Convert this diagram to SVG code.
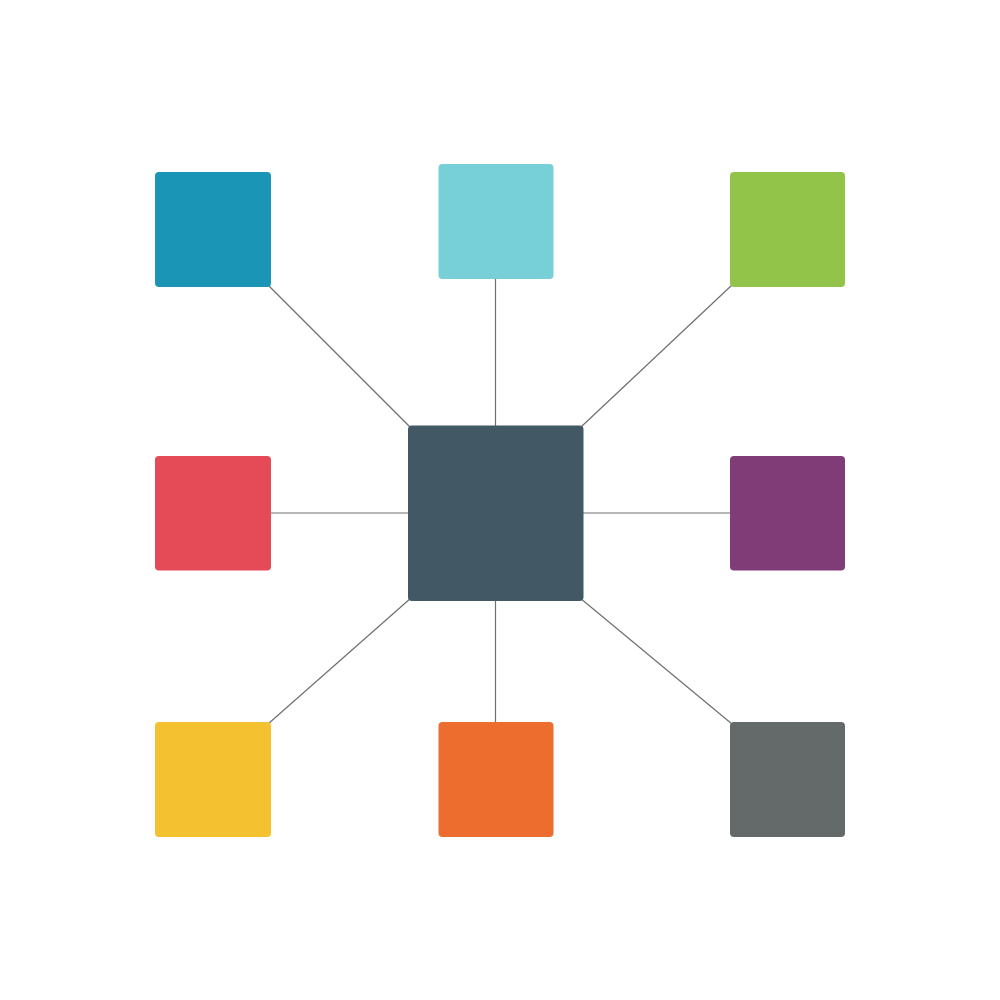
<svg xmlns="http://www.w3.org/2000/svg" width="1000" height="1000" viewBox="0 0 1000 1000">
<style>
.n{rx:4;ry:4}
.c line{stroke:#6f6f6f;stroke-width:1.2;fill:none}
</style>
<rect width="1000" height="1000" fill="#fff"/>
<g class="c" id="connectors">
<line x1="268" y1="285" x2="410" y2="427"/>
<line x1="495.5" y1="278" x2="495.5" y2="426"/>
<line x1="732" y1="285" x2="581" y2="427"/>
<line x1="270" y1="513" x2="409" y2="513"/>
<line x1="582" y1="513" x2="731" y2="513"/>
<line x1="268" y1="724" x2="411" y2="598"/>
<line x1="495.5" y1="600" x2="495.5" y2="723"/>
<line x1="732" y1="724" x2="580" y2="598"/>
</g>
<g id="center"><rect class="n" x="408" y="425.5" width="175.5" height="175.5" fill="#435865"/></g>
<g id="n1"><rect class="n" x="155" y="172" width="116" height="115" fill="#1A95B5"/></g>
<g id="n2"><rect class="n" x="438.5" y="164" width="115" height="115" fill="#77CFD7"/></g>
<g id="n3"><rect class="n" x="730" y="172" width="115" height="115" fill="#92C44A"/></g>
<g id="n4"><rect class="n" x="155" y="456" width="116" height="114.5" fill="#E54A57"/></g>
<g id="n5"><rect class="n" x="730" y="456" width="115" height="114.5" fill="#803C77"/></g>
<g id="n6"><rect class="n" x="155" y="722" width="116" height="115" fill="#F4C231"/></g>
<g id="n7"><rect class="n" x="438.5" y="722" width="115" height="115" fill="#ED6D2F"/></g>
<g id="n8"><rect class="n" x="730" y="722" width="115" height="115" fill="#646A69"/></g>
</svg>
